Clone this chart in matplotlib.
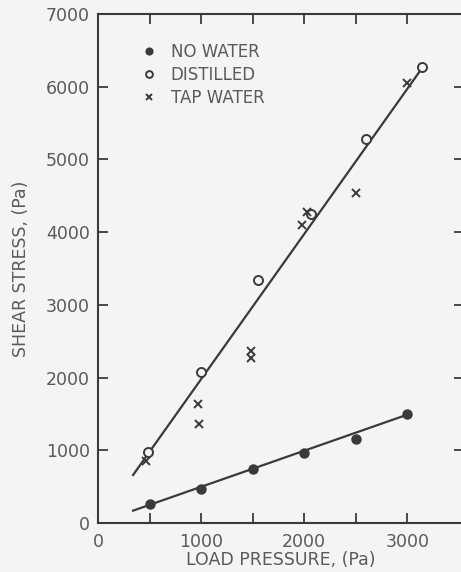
import matplotlib.pyplot as plt
from matplotlib.ticker import MultipleLocator, FixedLocator

# -----------------------------------
# DATA
# -----------------------------------

# no water (filled circles)
dry_load = [500, 1000, 1500, 2000, 2500, 3000]
dry_shear = [260, 465, 740, 960, 1150, 1500]

# distilled water (open circles)
distilled_load = [485, 1000, 1550, 2070, 2600, 3140]
distilled_shear = [980, 2075, 3340, 4250, 5280, 6265]

# tap water (crosses)
tap_load = [470, 970, 980, 1480, 1480, 1980, 2030, 2500, 3000]
tap_shear = [850, 1640, 1360, 2370, 2270, 4100, 4280, 4540, 6050]

# hand-fitted trend lines
dry_fit_load = [340, 3000]
dry_fit_shear = [170, 1490]
wet_fit_load = [340, 3140]
wet_fit_shear = [660, 6250]

# -----------------------------------
# STYLE
# -----------------------------------

bg = "#f4f4f2"
ink = "#3a3a3a"
txt = "#5a5a5a"

plt.rcParams["font.family"] = "DejaVu Sans"

fig = plt.figure(figsize=(4.61, 5.72), dpi=100, facecolor=bg)
ax = fig.add_axes([98 / 461, 1 - 523 / 572, 366 / 461, 509 / 572], facecolor=bg)

# -----------------------------------
# PLOT
# -----------------------------------

ax.plot(dry_fit_load, dry_fit_shear, color=ink, lw=1.6)
ax.plot(wet_fit_load, wet_fit_shear, color=ink, lw=1.6)

ax.plot(dry_load, dry_shear, "o", color=ink, ms=6.5, mec=ink,
        label="NO WATER", zorder=3)
ax.plot(distilled_load, distilled_shear, "o", mfc=bg, mec=ink, mew=1.4,
        ms=6.5, label="DISTILLED", zorder=3)
ax.plot(tap_load, tap_shear, "x", color=ink, ms=5.5, mew=1.4,
        label="TAP WATER", zorder=3)

ax.set_xlim(0, 3550)
ax.set_ylim(0, 7000)

ax.xaxis.set_major_locator(FixedLocator([0, 1000, 2000, 3000]))
ax.xaxis.set_minor_locator(FixedLocator([500, 1500, 2500]))
ax.yaxis.set_major_locator(MultipleLocator(1000))

ax.tick_params(which="both", direction="in", length=7, width=1.3,
               color=ink, top=True, right=True, labelsize=12.5,
               labelcolor=txt)
ax.tick_params(axis="x", which="both", pad=7)
ax.tick_params(axis="y", pad=6)

for side in ["left", "bottom", "top"]:
    ax.spines[side].set_color(ink)
    ax.spines[side].set_linewidth(1.5)
ax.spines["right"].set_visible(False)

ax.set_xlabel("LOAD PRESSURE, (Pa)", fontsize=12.5, color=txt, labelpad=0)
ax.set_ylabel("SHEAR STRESS, (Pa)", fontsize=12.5, color=txt, labelpad=11)

leg = ax.legend(loc="upper left", bbox_to_anchor=(0.08, 0.972), frameon=False,
                fontsize=12, markerscale=0.75, handlelength=0.8,
                handletextpad=0.9, labelspacing=0.3)
for t in leg.get_texts():
    t.set_color(txt)

plt.savefig("out.png", dpi=100, facecolor=bg)
plt.close()
